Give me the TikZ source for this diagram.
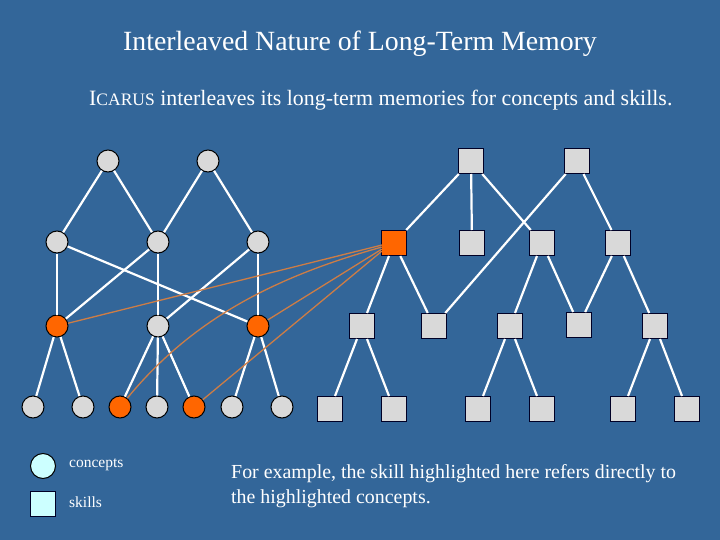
\documentclass[tikz,border=0pt]{standalone}
\usepackage{fontspec}
\setmainfont{Liberation Serif}
\definecolor{bgblue}{RGB}{51,102,153}
\definecolor{nodegray}{RGB}{217,217,217}
\definecolor{hlorange}{RGB}{255,102,0}
\definecolor{linkorange}{RGB}{205,125,70}
\definecolor{legfill}{RGB}{204,255,255}
\begin{document}
\begin{tikzpicture}[x=1pt,y=-1pt,
  cnode/.style={circle,draw=black,line width=1pt,fill=nodegray,minimum size=22pt,inner sep=0pt},
  snode/.style={rectangle,draw=black!85!blue,line width=1pt,fill=nodegray,minimum size=25pt,inner sep=0pt},
  hl/.style={fill=hlorange},
  tedge/.style={draw=white,line width=2.2pt},
  link/.style={draw=linkorange,line width=1.3pt},
  txt/.style={text=white,inner sep=0pt}]
\fill[bgblue] (0,0) rectangle (720,540);
\useasboundingbox (0,0) rectangle (720,540);

% titles
\node[txt,font=\fontsize{27.8}{30}\selectfont] (title) at (360,44) {Interleaved Nature of Long-Term Memory};
\node[txt,font=\fontsize{21.9}{24}\selectfont,anchor=west] (sub) at (89,100) {I{\fontsize{17.5}{20}\selectfont CARUS} interleaves its long-term memories for concepts and skills.};

% concept nodes
\node[cnode] (c1) at (108,161) {};
\node[cnode] (c2) at (208,161) {};
\node[cnode] (c3) at (57,242) {};
\node[cnode] (c4) at (158,242) {};
\node[cnode] (c5) at (258,242) {};
\node[cnode,hl] (c6) at (57,326) {};
\node[cnode] (c7) at (158,326) {};
\node[cnode,hl] (c8) at (258,326) {};
\node[cnode] (c9) at (33,407) {};
\node[cnode] (c10) at (83,407) {};
\node[cnode,hl] (c11) at (120,407) {};
\node[cnode] (c12) at (157,407) {};
\node[cnode,hl] (c13) at (194,407) {};
\node[cnode] (c14) at (232,407) {};
\node[cnode] (c15) at (282,407) {};

% skill nodes
\node[snode] (s1) at (471,161) {};
\node[snode] (s2) at (577,161) {};
\node[snode,hl] (s3) at (394,243) {};
\node[snode] (s4) at (472,243) {};
\node[snode] (s5) at (542,243) {};
\node[snode] (s6) at (618,243) {};
\node[snode] (s7) at (362,326) {};
\node[snode] (s8) at (434,326) {};
\node[snode] (s9) at (510,326) {};
\node[snode] (s10) at (579,325) {};
\node[snode] (s11) at (655,326) {};
\node[snode] (s12) at (330,409) {};
\node[snode] (s13) at (394,409) {};
\node[snode] (s14) at (478,409) {};
\node[snode] (s15) at (542,409) {};
\node[snode] (s16) at (623,409) {};
\node[snode] (s17) at (687,409) {};

% concept edges
\draw[tedge] (c1) -- (c3);
\draw[tedge] (c1) -- (c4);
\draw[tedge] (c2) -- (c4);
\draw[tedge] (c2) -- (c5);
\draw[tedge] (c3) -- (c6);
\draw[tedge] (c3) -- (c8);
\draw[tedge] (c4) -- (c6);
\draw[tedge] (c4) -- (c7);
\draw[tedge] (c5) -- (c7);
\draw[tedge] (c5) -- (c8);
\draw[tedge] (c6) -- (c9);
\draw[tedge] (c6) -- (c10);
\draw[tedge] (c7) -- (c11);
\draw[tedge] (c7) -- (c12);
\draw[tedge] (c7) -- (c13);
\draw[tedge] (c8) -- (c14);
\draw[tedge] (c8) -- (c15);

% skill edges
\draw[tedge] (s1) -- (s3);
\draw[tedge] (s1) -- (s4);
\draw[tedge] (s1) -- (s5);
\draw[tedge] (s2) -- (s8);
\draw[tedge] (s2) -- (s6);
\draw[tedge] (s3) -- (s7);
\draw[tedge] (s3) -- (s8);
\draw[tedge] (s5) -- (s9);
\draw[tedge] (s5) -- (s10);
\draw[tedge] (s6) -- (s10);
\draw[tedge] (s6) -- (s11);
\draw[tedge] (s7) -- (s12);
\draw[tedge] (s7) -- (s13);
\draw[tedge] (s9) -- (s14);
\draw[tedge] (s9) -- (s15);
\draw[tedge] (s11) -- (s16);
\draw[tedge] (s11) -- (s17);

% links from highlighted skill to highlighted concepts
\coordinate (la) at (382,245);
\coordinate (lb) at (382,247);
\coordinate (lc) at (382,249);
\coordinate (ld) at (382,251);
\draw[link] (la) -- (c6);
\draw[link] (lc) -- (c8);
\draw[link] (ld) -- (c13);
\draw[link] (lb) .. controls (270,278) and (190,322) .. (c11);

% legend
\node[circle,draw=black,line width=1pt,fill=legfill,minimum size=25pt,inner sep=0pt] (lgc) at (43,466) {};
\node[rectangle,draw=black!85!blue,line width=1pt,fill=legfill,minimum size=25pt,inner sep=0pt] (lgs) at (43,504) {};
\node[txt,font=\fontsize{15.5}{17}\selectfont,anchor=west] (lgct) at (69,465) {concepts};
\node[txt,font=\fontsize{15.5}{17}\selectfont,anchor=west] (lgst) at (69,502) {skills};

% caption
\node[txt,font=\fontsize{19.9}{24.5}\selectfont,anchor=base west,align=left] (cap) at (231,503) {For example, the skill highlighted here refers directly to\\the highlighted concepts.};
\end{tikzpicture}
\end{document}
